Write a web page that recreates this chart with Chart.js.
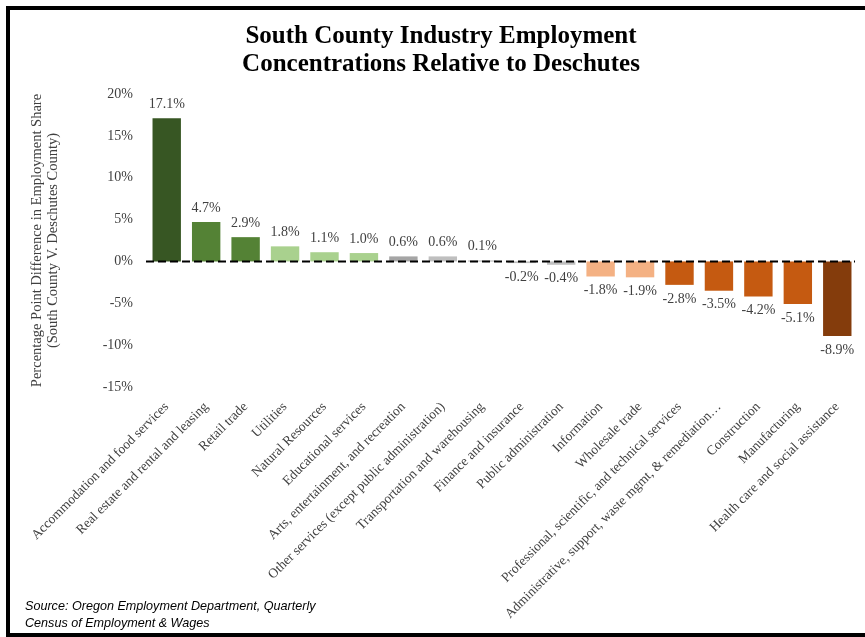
<!DOCTYPE html>
<html>
<head>
<meta charset="utf-8">
<script src="https://cdn.jsdelivr.net/npm/chart.js@4"></script>
<style>
  html, body { margin: 0; padding: 0; background: #fff; overflow: hidden; }
  #wrap { position: relative; width: 865px; height: 637px; }
  #frame { position: absolute; left: 6px; top: 6px; width: 900px; height: 623px; border: 4px solid #000; box-sizing: content-box; pointer-events: none; }
  #source { position: absolute; left: 25px; top: 598px; font: italic 12.6px "Liberation Sans", Arial, sans-serif; line-height: 17px; color: #000; }
</style>
</head>
<body>
<div id="wrap">
  <canvas id="chart" width="865" height="637"></canvas>
  <div id="frame"></div>
  <div id="source">Source: Oregon Employment Department, Quarterly<br>Census of Employment &amp; Wages</div>
</div>
<script>
// categorias (industrias) en el orden del grafico
const industries = [
  "Accommodation and food services",
  "Real estate and rental and leasing",
  "Retail trade",
  "Utilities",
  "Natural Resources",
  "Educational services",
  "Arts, entertainment, and recreation",
  "Other services (except public administration)",
  "Transportation and warehousing",
  "Finance and insurance",
  "Public administration",
  "Information",
  "Wholesale trade",
  "Professional, scientific, and technical services",
  "Administrative, support, waste mgmt, & remediation…",
  "Construction",
  "Manufacturing",
  "Health care and social assistance"
];

// diferencia en puntos porcentuales
const diffs = [17.1, 4.7, 2.9, 1.8, 1.1, 1.0, 0.6, 0.6, 0.1, -0.2, -0.4, -1.8, -1.9, -2.8, -3.5, -4.2, -5.1, -8.9];

// color de cada barra
const barColors = [
  "#375623", "#548235", "#548235",
  "#A9D18E", "#A9D18E", "#A9D18E",
  "#A5A5A5", "#BFBFBF", "#A5A5A5",
  "#BFBFBF", "#BFBFBF",
  "#F4B183", "#F4B183",
  "#C55A11", "#C55A11", "#C55A11", "#C55A11",
  "#843C0C"
];

const yTicks = { min: -15, max: 20, step: 5 };

const serif = '"Liberation Serif", "Times New Roman", serif';

// linea punteada en cero + etiquetas de valores
const zeroAndLabels = {
  id: 'zeroAndLabels',
  afterDatasetsDraw(chart) {
    const ctx = chart.ctx;
    const y0 = chart.scales.y.getPixelForValue(0);
    const area = chart.chartArea;
    ctx.save();
    ctx.strokeStyle = '#000';
    ctx.lineWidth = 2;
    ctx.setLineDash([8, 4]);
    ctx.beginPath();
    ctx.moveTo(area.left - 1, y0);
    ctx.lineTo(area.right - 2, y0);
    ctx.stroke();
    ctx.setLineDash([]);

    ctx.font = '14px ' + serif;
    ctx.fillStyle = '#404040';
    ctx.textAlign = 'center';
    ctx.textBaseline = 'middle';
    const meta = chart.getDatasetMeta(0);
    meta.data.forEach((bar, i) => {
      const v = diffs[i];
      const y = v >= 0 ? Math.min(bar.y, y0) - 14 : Math.max(bar.y, y0) + 14;
      ctx.fillText(v.toFixed(1) + '%', bar.x, y);
    });
    ctx.restore();
  }
};

new Chart(document.getElementById('chart'), {
  type: 'bar',
  data: {
    labels: industries,
    datasets: [{
      data: diffs,
      backgroundColor: barColors,
      borderWidth: 0,
      barPercentage: 0.72,
      categoryPercentage: 1.0
    }]
  },
  plugins: [zeroAndLabels],
  options: {
    responsive: false,
    animation: false,
    devicePixelRatio: 1,
    layout: { padding: { top: 10, left: 25, right: 8, bottom: 0 } },
    plugins: {
      legend: { display: false },
      tooltip: { enabled: false },
      title: {
        display: true,
        text: ['South County Industry Employment', 'Concentrations Relative to Deschutes'],
        color: '#000',
        font: { family: serif, size: 25, weight: 'bold', lineHeight: 1.12 },
        padding: { top: 13, bottom: 15 }
      }
    },
    scales: {
      x: {
        grid: { display: false, drawTicks: false },
        border: { display: false },
        ticks: {
          autoSkip: false,
          maxRotation: 45,
          minRotation: 45,
          padding: 12,
          color: '#404040',
          font: { family: serif, size: 13.5 }
        },
        afterFit(scale) { scale.height = 250; }
      },
      y: {
        min: yTicks.min,
        max: yTicks.max,
        grid: { display: false, drawTicks: false },
        border: { display: false },
        ticks: {
          stepSize: yTicks.step,
          padding: 14,
          color: '#404040',
          font: { family: serif, size: 14 },
          callback: v => v + '%'
        },
        title: {
          display: true,
          text: ['Percentage Point Difference in Employment Share', '(South County V. Deschutes County)'],
          color: '#404040',
          font: { family: serif, size: 14.5, lineHeight: 1.05 },
          padding: { top: 5, bottom: 4 }
        },
        afterFit(scale) { scale.width = 122; }
      }
    }
  }
});
</script>
</body>
</html>
